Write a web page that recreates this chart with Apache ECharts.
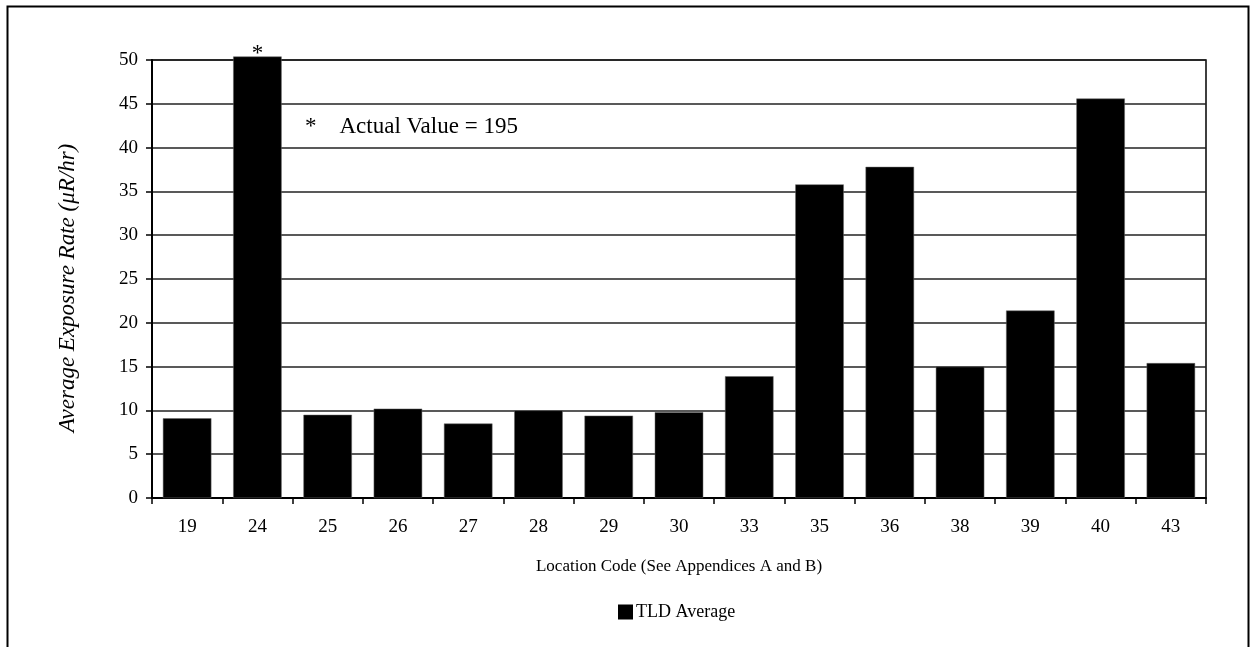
<!DOCTYPE html>
<html>
<head>
<meta charset="utf-8">
<script src="https://cdn.jsdelivr.net/npm/echarts@6/dist/echarts.min.js"></script>
<style>html,body{margin:0;padding:0;background:#fff}#c{width:1255px;height:647px}</style>
</head>
<body>
<div id="c"></div>
<script>
const categories = ['19','24','25','26','27','28','29','30','33','35','36','38','39','40','43'];
const tldAverage = [9.1, 50.4, 9.5, 10.2, 8.5, 10.0, 9.4, 9.8, 13.9, 35.8, 37.8, 15.0, 21.4, 45.6, 15.4];
const starred = ['24'];
const yTicks = [0,5,10,15,20,25,30,35,40,45,50];
const noteText = '*    Actual Value = 195';

const serif = 'Liberation Serif, Times New Roman, serif';
const chart = echarts.init(document.getElementById('c'));
const data = tldAverage.map((v, i) => starred.includes(categories[i])
  ? {value: v, label: {show: true, position: 'top', formatter: '*', fontSize: 23, fontFamily: serif, color: '#000', distance: -9}}
  : v);

chart.setOption({
  animation: false,
  backgroundColor: '#fff',
  grid: {left: 152, right: 49, top: 60, bottom: 149, show: true, borderColor: '#000', borderWidth: 1.5, backgroundColor: 'transparent'},
  legend: {
    top: 603, left: 618, padding: 0, itemWidth: 15, itemHeight: 15, itemGap: 3,
    icon: 'rect',
    itemStyle: {borderWidth: 0, color: '#000'},
    textStyle: {fontFamily: serif, fontSize: 18, color: '#000', padding: [0, 0, 0, -2]},
    data: ['TLD Average']
  },
  xAxis: {
    type: 'category', data: categories,
    name: 'Location Code (See Appendices A and B)', nameLocation: 'middle', nameGap: 60,
    nameTextStyle: {fontFamily: serif, fontSize: 17, color: '#000'},
    axisLine: {lineStyle: {color: '#000', width: 2}},
    axisTick: {show: true, alignWithLabel: false, length: 6, lineStyle: {color: '#000', width: 1.5}},
    axisLabel: {fontFamily: serif, fontSize: 19, color: '#000', margin: 20},
    splitLine: {show: false}
  },
  yAxis: {
    type: 'value', min: 0, max: 50, interval: 5,
    name: 'Average Exposure Rate (\u03bcR/hr)', nameLocation: 'middle', nameGap: 73,
    nameTextStyle: {fontFamily: serif, fontSize: 23, fontStyle: 'italic', color: '#000', padding: [0, 18, 0, 0]},
    axisLine: {show: true, lineStyle: {color: '#000', width: 2}},
    axisTick: {show: true, length: 6, lineStyle: {color: '#000', width: 1.5}},
    axisLabel: {fontFamily: serif, fontSize: 19, color: '#000', margin: 14,
      formatter: v => yTicks.includes(v) ? String(v) : ''},
    splitLine: {show: true, lineStyle: {color: '#222', width: 1.5}}
  },
  series: [{
    name: 'TLD Average', type: 'bar', data: data, clip: false,
    barCategoryGap: '31%',
    itemStyle: {color: '#000', borderColor: '#666', borderWidth: 0.5}
  }],
  graphic: [
    {type: 'rect', left: 5, top: 4, shape: {width: 1241, height: 660}, style: {fill: 'none', stroke: '#000', lineWidth: 2}, silent: true},
    {type: 'text', left: 305, top: 115, style: {text: noteText, font: '23px ' + serif, fill: '#000'}}
  ]
});
</script>
</body>
</html>
